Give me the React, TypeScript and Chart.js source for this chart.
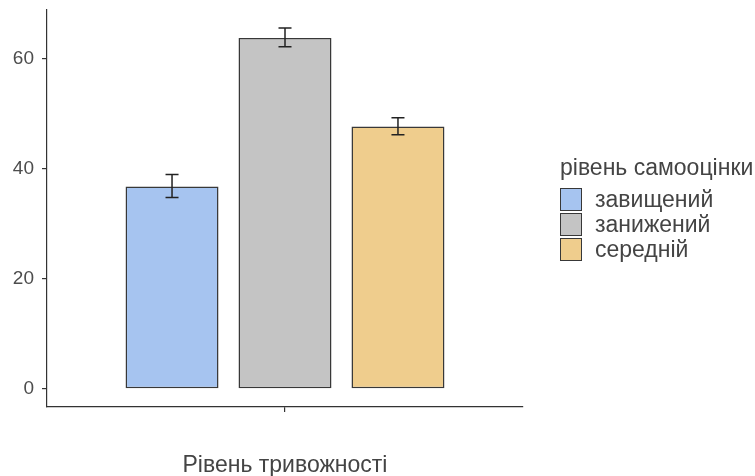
import React, { useEffect, useRef } from "react";
import { Chart, registerables } from "chart.js";

Chart.register(...registerables);

const groups = ["завищений", "занижений", "середній"];
const means = [36.8, 63.8, 47.7];
const lower = [34.8, 62.2, 46.2];
const upper = [39.0, 65.6, 49.3];
const fills = ["#a6c4f0", "#c4c4c4", "#efcd8d"];
const yTicks = [0, 20, 40, 60];
const categories = [""];
const xTitle = "Рівень тривожності";
const legendTitle = "рівень самооцінки";

const FONT = "'Liberation Sans', Arial, sans-serif";

const errorBarPlugin = {
  id: "errorBars",
  afterDatasetsDraw(chart: any) {
    const ctx = chart.ctx;
    const y = chart.scales.y;
    ctx.save();
    ctx.strokeStyle = "#222";
    ctx.lineWidth = 1.5;
    groups.forEach((_, i) => {
      const meta = chart.getDatasetMeta(i);
      const bar = meta.data[0];
      if (!bar) return;
      const x = bar.x;
      const half = bar.width * 0.07;
      const yt = y.getPixelForValue(upper[i]);
      const yb = y.getPixelForValue(lower[i]);
      ctx.beginPath();
      ctx.moveTo(x, yt);
      ctx.lineTo(x, yb);
      ctx.moveTo(x - half, yt);
      ctx.lineTo(x + half, yt);
      ctx.moveTo(x - half, yb);
      ctx.lineTo(x + half, yb);
      ctx.stroke();
    });
    ctx.restore();
  },
};

export default function App() {
  const ref = useRef<HTMLCanvasElement>(null);

  useEffect(() => {
    document.body.style.margin = "0";
    const canvas = ref.current!;
    const chart = new Chart(canvas, {
      type: "bar",
      data: {
        labels: categories,
        datasets: groups.map((g, i) => ({
          label: g,
          data: [means[i]],
          backgroundColor: fills[i],
          borderColor: "#383838",
          borderWidth: 1.5,
          borderSkipped: false,
          categoryPercentage: 0.712,
          barPercentage: 0.823,
        })),
      },
      options: {
        responsive: false,
        animation: false,
        events: [],
        layout: { padding: { top: 10, right: 232, left: 0, bottom: 0 } },
        plugins: {
          legend: { display: false },
          tooltip: { enabled: false },
        },
        scales: {
          x: {
            type: "category",
            offset: true,
            grid: {
              display: true,
              drawOnChartArea: false,
              drawTicks: true,
              tickLength: 5,
              offset: false,
              color: "#333",
              lineWidth: 1.2,
            },
            border: { display: true, color: "#333", width: 1.2 },
            ticks: { display: true, font: { size: 1 } },
            title: {
              display: true,
              text: xTitle,
              color: "#444",
              font: { family: FONT, size: 23, lineHeight: 0.8 },
              padding: { top: 0, bottom: 1.5 },
            },
            afterFit(scale: any) {
              scale.height = 69;
              scale.paddingLeft = 0;
              scale.paddingRight = 0;
            },
          },
          y: {
            min: -3.28,
            max: 68.88,
            afterBuildTicks(scale: any) {
              scale.ticks = yTicks.map((v) => ({ value: v }));
            },
            grid: {
              display: true,
              drawOnChartArea: false,
              drawTicks: true,
              tickLength: 5,
              color: "#333",
              lineWidth: 1.2,
            },
            border: { display: true, color: "#333", width: 1.2 },
            ticks: {
              color: "#4d4d4d",
              font: { family: FONT, size: 19 },
              padding: 8,
            },
            afterFit(scale: any) {
              scale.width = 47;
              scale.paddingTop = 0;
              scale.paddingBottom = 0;
            },
          },
        },
      },
      plugins: [errorBarPlugin],
    } as any);
    return () => chart.destroy();
  }, []);

  return (
    <div style={{ position: "fixed", left: 0, top: 0, width: 755, height: 476, background: "#fff" }}>
      <canvas ref={ref} width={755} height={476} style={{ display: "block" }} />
      <div
        style={{
          position: "absolute",
          left: 560,
          top: 153,
          fontFamily: FONT,
          color: "#444",
        }}
      >
        <div style={{ fontSize: 23, lineHeight: "28px", marginBottom: 6, whiteSpace: "nowrap" }}>{legendTitle}</div>
        {groups.map((g, i) => (
          <div key={g} style={{ display: "flex", alignItems: "center", height: 25 }}>
            <div
              style={{
                width: 20,
                height: 21,
                background: fills[i],
                border: "1.4px solid #383838",
                boxSizing: "content-box",
              }}
            />
            <span style={{ fontSize: 23, lineHeight: "25px", marginLeft: 13, whiteSpace: "nowrap" }}>{g}</span>
          </div>
        ))}
      </div>
    </div>
  );
}
